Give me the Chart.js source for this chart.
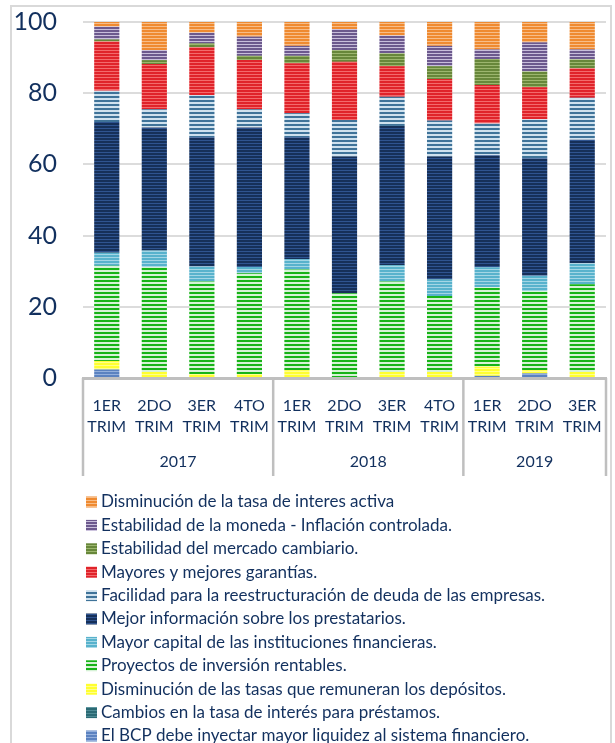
<!DOCTYPE html>
<html>
<head>
<meta charset="utf-8">
<script src="https://cdn.jsdelivr.net/npm/chart.js@4"></script>
<style>
  html, body { margin: 0; padding: 0; background: #fff; }
  #wrap { width: 615px; height: 743px; position: relative; }
</style>
</head>
<body>
<div id="wrap"><canvas id="chart" width="615" height="743"></canvas></div>
<script>
// categories
const quarters = [
  ['1ER', 'TRIM'], ['2DO', 'TRIM'], ['3ER', 'TRIM'], ['4TO', 'TRIM'],
  ['1ER', 'TRIM'], ['2DO', 'TRIM'], ['3ER', 'TRIM'], ['4TO', 'TRIM'],
  ['1ER', 'TRIM'], ['2DO', 'TRIM'], ['3ER', 'TRIM']
];
const years = ['2017', '2018', '2019'];
const yearSizes = [4, 4, 3];
const yTicks = [0, 20, 40, 60, 80, 100];

// series, bottom of the stack first
const bcpLiquidez   = [2.4, 0, 0, 0, 0, 0, 0, 0, 0.6, 1.3, 0];
const cambiosTasa   = [0, 0, 0, 0, 0, 0, 0, 0, 0, 0, 0];
const tasasDeposito = [2.4, 1.7, 1.1, 1.1, 2.2, 0, 1.7, 1.7, 2.6, 0.9, 1.7];
const proyectos     = [26.7, 29.5, 26.0, 28.3, 28.3, 23.8, 25.4, 21.3, 22.3, 22.2, 24.6];
const mayorCapital  = [3.7, 4.6, 4.2, 1.8, 2.9, 0, 4.6, 4.7, 5.6, 4.3, 5.9];
const mejorInfo     = [36.7, 34.6, 36.3, 39.2, 34.2, 38.4, 39.1, 34.5, 31.5, 33.0, 34.7];
const facilidad     = [8.8, 5.1, 11.9, 5.1, 6.8, 10.3, 8.2, 10.1, 8.9, 11.0, 11.8];
const garantias     = [13.8, 12.7, 13.4, 13.8, 14.0, 16.3, 8.6, 11.7, 10.8, 9.0, 8.3];
const estCambiario  = [0.6, 1.1, 1.1, 1.2, 2.1, 3.3, 3.6, 3.6, 7.3, 4.4, 2.5];
const estMoneda     = [3.6, 2.8, 3.0, 5.4, 2.8, 5.9, 5.0, 5.7, 2.7, 8.2, 2.8];
const tasaActiva    = [1.3, 7.9, 3.0, 4.1, 6.7, 2.0, 3.8, 6.7, 7.7, 5.7, 7.7];

const seriesNames = [
  'El BCP debe inyectar mayor liquidez al sistema financiero.',
  'Cambios en la tasa de interés para préstamos.',
  'Disminución de las tasas que remuneran los depósitos.',
  'Proyectos de inversión rentables.',
  'Mayor capital de las instituciones financieras.',
  'Mejor información sobre los prestatarios.',
  'Facilidad para la reestructuración de deuda de las empresas.',
  'Mayores y mejores garantías.',
  'Estabilidad del mercado cambiario.',
  'Estabilidad de la moneda - Inflación controlada.',
  'Disminución de la tasa de interes activa'
];
const seriesData = [bcpLiquidez, cambiosTasa, tasasDeposito, proyectos, mayorCapital,
  mejorInfo, facilidad, garantias, estCambiario, estMoneda, tasaActiva];

const navy = '#12305e';
const ctx = document.getElementById('chart').getContext('2d');

// horizontal stripes like the Excel texture: dark rows then light rows
function stripes(base, light, dark, lite) {
  dark = dark || 2; lite = lite || 1;
  const c = document.createElement('canvas');
  c.width = 4; c.height = dark + lite;
  const g = c.getContext('2d');
  g.fillStyle = base; g.fillRect(0, 0, 4, dark + lite);
  g.fillStyle = light; g.fillRect(0, dark, 4, lite);
  return ctx.createPattern(c, 'repeat');
}

const fills = [
  stripes('#5b82c0', '#93afdc'),
  stripes('#2b6a74', '#4f8c96'),
  stripes('#ffff30', '#ffff8a'),
  stripes('#17b317', '#d6f2d6', 2, 2),
  stripes('#58b2cc', '#a3d6e5'),
  stripes('#163059', '#2f5490'),
  stripes('#3f7399', '#cfe1ee', 2, 2),
  stripes('#e0232a', '#f36a6c'),
  stripes('#67873a', '#9cb66e'),
  stripes('#6c598d', '#c8bedb'),
  stripes('#ef8a30', '#f7bd88')
];

const framePlugin = {
  id: 'frame',
  beforeDraw(chart) {
    const c = chart.ctx;
    c.save();
    c.strokeStyle = '#d9d9d9';
    c.lineWidth = 2;
    c.strokeRect(11, 6, 600, 760);
    c.restore();
  },
  afterDraw(chart) {
    const c = chart.ctx;
    const x = chart.scales.x;
    const area = chart.chartArea;
    const half = (x.getPixelForValue(1) - x.getPixelForValue(0)) / 2;
    c.save();
    // group separators and year labels
    c.strokeStyle = '#bfbfbf';
    c.lineWidth = 2.5;
    let start = 0;
    const edges = [x.getPixelForValue(0) - half];
    years.forEach((yr, i) => {
      const end = start + yearSizes[i] - 1;
      edges.push(x.getPixelForValue(end) + half);
      c.fillStyle = navy;
      c.font = '16px Lato';
      c.textAlign = 'center';
      c.textBaseline = 'middle';
      c.fillText(yr, (x.getPixelForValue(start) + x.getPixelForValue(end)) / 2, 462);
      start = end + 1;
    });
    edges.forEach(ex => {
      c.beginPath();
      c.moveTo(ex, area.bottom);
      c.lineTo(ex, 476);
      c.stroke();
    });
    // legend, top of stack first
    c.font = '17px Lato';
    c.textAlign = 'left';
    c.textBaseline = 'middle';
    const order = chart.data.datasets.slice().reverse();
    order.forEach((ds, i) => {
      const cy = 502 + i * 23.4;
      c.fillStyle = ds.backgroundColor;
      c.fillRect(86, cy - 5.5, 11, 11);
      c.fillStyle = navy;
      c.fillText(ds.label, 101, cy);
    });
    c.restore();
  }
};

new Chart(ctx, {
  type: 'bar',
  data: {
    labels: quarters,
    datasets: seriesNames.map((name, i) => ({
      label: name,
      data: seriesData[i],
      backgroundColor: fills[i],
      borderWidth: 0,
      barPercentage: 0.53,
      categoryPercentage: 1
    }))
  },
  options: {
    responsive: false,
    animation: false,
    layout: { padding: { top: 22, right: 9, bottom: 265, left: 0 } },
    plugins: {
      legend: { display: false },
      tooltip: { enabled: false }
    },
    scales: {
      x: {
        stacked: true,
        grid: { display: false },
        border: { color: '#bfbfbf', width: 3 },
        ticks: {
          color: navy,
          font: { family: 'Lato', size: 16, lineHeight: 1.34 },
          padding: 9,
          maxRotation: 0,
          autoSkip: false
        },
        afterFit(scale) { scale.height = 100; }
      },
      y: {
        stacked: true,
        min: 0,
        max: 100,
        afterBuildTicks(scale) { scale.ticks = yTicks.map(v => ({ value: v })); },
        grid: { color: '#dcdcdc', lineWidth: 2, drawTicks: false },
        border: { display: false },
        ticks: {
          color: navy,
          font: { family: 'Lato', size: 25 },
          padding: 26
        },
        afterFit(scale) {
          scale.width = 83;
          scale.paddingTop = 0;
          scale.paddingBottom = 0;
        }
      }
    }
  },
  plugins: [framePlugin]
});
</script>
</body>
</html>
